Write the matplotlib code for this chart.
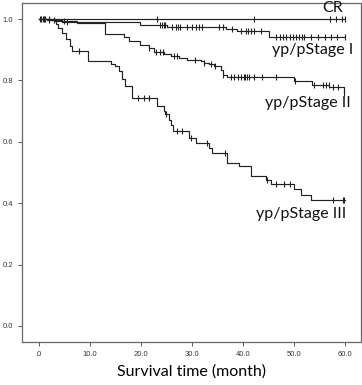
import matplotlib
matplotlib.use("Agg")
import numpy as np
import matplotlib.pyplot as plt

# - Kaplan-Meier step data (months, survival)
cr_t = [0, 60.0]
cr_s = [1.0, 1.0]
cr_cens = [0.3, 23.2, 42.2, 57.0, 58.3, 59.3, 59.9]

st1_t = [0, 2.0, 4.5, 19.9, 25.1, 36.6, 38.9, 45.1, 60.0]
st1_s = [1.0, 0.996, 0.989, 0.982, 0.974, 0.969, 0.962, 0.943, 0.943]
st1_cens = [1.0, 3.0, 5.5, 23.8, 24.2, 24.5, 24.8, 26.1, 26.8, 27.3, 27.7, 29.1, 30.0,
            30.8, 31.4, 32.0, 35.2, 36.0, 37.8, 39.6, 40.5, 41.0, 41.5, 42.1, 43.5,
            46.5, 47.2, 47.8, 48.5, 49.2, 49.8, 50.3, 50.9, 51.5, 52.0, 53.3, 54.7,
            56.0, 57.3, 58.5, 59.9]

st2_t = [0, 1.5, 3.0, 7.4, 13.0, 16.6, 17.6, 19.9, 21.5, 22.5, 24.5, 25.8, 27.4, 29.1,
         31.7, 32.3, 33.3, 34.3, 35.6, 36.0, 36.9, 50.0, 53.6, 56.9, 59.8]
st2_s = [1.0, 0.996, 0.992, 0.987, 0.95, 0.94, 0.928, 0.917, 0.906, 0.892, 0.885, 0.879,
         0.874, 0.868, 0.863, 0.857, 0.852, 0.846, 0.835, 0.819, 0.811, 0.797, 0.786,
         0.778, 0.759]
st2_cens = [0.8, 2.0, 5.0, 21.5, 23.0, 23.8, 24.3, 26.5, 27.0, 30.5, 32.3, 33.7, 34.6,
            36.0, 37.6, 38.3, 39.0, 39.6, 40.1, 40.4, 40.7, 41.2, 42.1, 43.8, 46.5, 50.1,
            54.0, 55.6, 56.2, 56.8, 57.6, 58.6, 59.8]

st3_t = [0, 3.3, 3.8, 4.5, 5.4, 6.1, 6.4, 9.7, 14.2, 15.0, 15.6, 16.3, 16.9, 18.2, 23.2,
         24.5, 24.8, 25.4, 25.8, 26.3, 29.4, 30.7, 33.3, 34.0, 36.9, 39.2, 41.5, 44.5,
         45.5, 50.0, 51.4, 53.3, 60.0]
st3_s = [1.0, 0.985, 0.972, 0.956, 0.934, 0.912, 0.895, 0.863, 0.855, 0.846, 0.830, 0.803,
         0.781, 0.743, 0.717, 0.700, 0.689, 0.672, 0.656, 0.634, 0.612, 0.596, 0.580,
         0.563, 0.531, 0.520, 0.489, 0.476, 0.463, 0.446, 0.427, 0.411, 0.411]
st3_cens = [0.5, 1.2, 2.0, 7.8, 19.5, 20.5, 21.5, 25.0, 27.0, 28.0, 29.8, 33.0, 36.5,
            44.6, 46.5, 48.0, 49.3, 57.6, 59.6, 59.8]

groups = [
    ("CR", cr_t, cr_s, cr_cens, (59.6, 1.035)),
    ("yp/pStage I", st1_t, st1_s, st1_cens, (61.6, 0.900)),
    ("yp/pStage II", st2_t, st2_s, st2_cens, (61.2, 0.728)),
    ("yp/pStage III", st3_t, st3_s, st3_cens, (60.2, 0.366)),
]

fig = plt.figure(figsize=(3.62, 3.85), dpi=100)
ax = fig.add_axes([0.061, 0.112, 0.936, 0.880])

for name, t, s, cens, pos in groups:
    t = np.array(t)
    s = np.array(s)
    ax.step(t, s, where="post", color="#222222", linewidth=0.85)
    idx = np.searchsorted(t, cens, side="right") - 1
    ax.plot(cens, s[idx], linestyle="none", marker="|", markersize=4.5,
            markeredgewidth=0.8, color="#222222")
    ax.text(pos[0], pos[1], name, ha="right", va="center", fontsize=11.5,
            family="Lato", color="#111111")

ax.set_xlim(-3.3, 63.1)
ax.set_ylim(-0.052, 1.052)
ax.set_xticks(np.arange(0, 61, 10))
ax.set_xticklabels([".0", "10.0", "20.0", "30.0", "40.0", "50.0", "60.0"])
ax.set_yticks(np.arange(0, 1.01, 0.2))
ax.set_yticklabels(["0.0", "0.2", "0.4", "0.6", "0.8", "1.0"])
ax.tick_params(labelsize=5.5, labelcolor="#333333", color="#555555", length=3, width=0.7)
for lab in ax.get_xticklabels() + ax.get_yticklabels():
    lab.set_family("Liberation Sans")
for sp in ax.spines.values():
    sp.set_color("#666666")
    sp.set_linewidth(0.9)
ax.set_xlabel("Survival time (month)", fontsize=11.5, family="Lato", labelpad=5)

plt.savefig("out.png", dpi=100)
